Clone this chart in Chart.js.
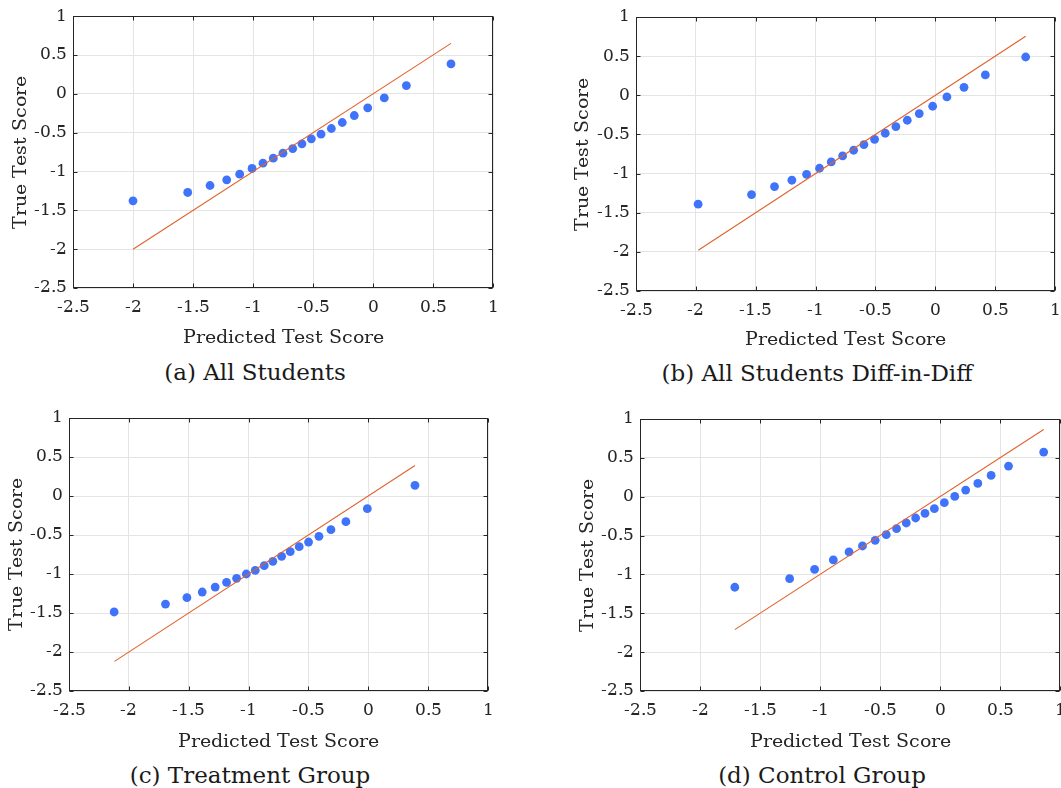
<!DOCTYPE html>
<html lang="en">
<head>
<meta charset="utf-8" />
<title>Predicted vs true test score</title>
<script src="https://cdn.jsdelivr.net/npm/chart.js@4.4.1/dist/chart.umd.min.js"></script>
<style>
  @font-face { font-family: "PaperSerif"; src: local("DejaVu Serif"), local("DejaVuSerif"); }
  html, body { margin: 0; padding: 0; background: #fff; overflow: hidden; }
  body { width: 1061px; height: 788px; position: relative; font-family: "DejaVu Serif", serif; }
  canvas { position: absolute; }
  .cap { position: absolute; font-family: "DejaVu Serif", serif; font-size: 23px; color: #1a1a1a;
         white-space: nowrap; transform: translateX(-50%); line-height: 1; }
  .warm { position: absolute; left: -999px; top: 0; font-family: "PaperSerif"; font-size: 17px; }
</style>
</head>
<body>
<span class="warm">-2.5 Predicted True Test Score</span>
<canvas id="chartA" width="520" height="355" style="left:0px;top:0px"></canvas>
<canvas id="chartB" width="540" height="355" style="left:540px;top:0px"></canvas>
<canvas id="chartC" width="520" height="355" style="left:0px;top:400px"></canvas>
<canvas id="chartD" width="540" height="355" style="left:540px;top:400px"></canvas>

<div class="cap" style="left:255px;top:361px">(a) All Students</div>
<div class="cap" style="left:817px;top:362px">(b) All Students Diff-in-Diff</div>
<div class="cap" style="left:250px;top:764px">(c) Treatment Group</div>
<div class="cap" style="left:822px;top:764px">(d) Control Group</div>

<script>
// axis ticks shared by all panels
var tickValues = [-2.5, -2, -1.5, -1, -0.5, 0, 0.5, 1];
var xTitle = "Predicted Test Score";
var yTitle = "True Test Score";

// (a) All Students
var predA = [-2.00, -1.544, -1.358, -1.219, -1.111, -1.008, -0.917, -0.831, -0.750, -0.669,
             -0.592, -0.514, -0.433, -0.347, -0.256, -0.156, -0.044, 0.094, 0.278, 0.650];
var trueA = [-1.378, -1.270, -1.180, -1.107, -1.034, -0.961, -0.893, -0.828, -0.764, -0.704,
             -0.644, -0.579, -0.519, -0.446, -0.369, -0.279, -0.180, -0.052, 0.107, 0.386];
var lineA = [-2.00, 0.65];

// (b) All Students Diff-in-Diff
var predB = [-1.981, -1.535, -1.343, -1.198, -1.075, -0.967, -0.869, -0.774, -0.682, -0.596,
             -0.507, -0.418, -0.329, -0.234, -0.134, -0.022, 0.097, 0.240, 0.418, 0.755];
var trueB = [-1.391, -1.268, -1.166, -1.085, -1.009, -0.932, -0.851, -0.774, -0.702, -0.630,
             -0.562, -0.485, -0.400, -0.319, -0.234, -0.140, -0.021, 0.102, 0.260, 0.489];
var lineB = [-1.98, 0.755];

// (c) Treatment Group
var predC = [-2.123, -1.694, -1.515, -1.387, -1.279, -1.184, -1.100, -1.019, -0.944, -0.869,
             -0.797, -0.724, -0.652, -0.577, -0.499, -0.412, -0.312, -0.187, -0.008, 0.390];
var trueC = [-1.487, -1.385, -1.303, -1.231, -1.167, -1.107, -1.056, -1.000, -0.953, -0.893,
             -0.838, -0.774, -0.714, -0.650, -0.590, -0.517, -0.432, -0.329, -0.162, 0.137];
var lineC = [-2.12, 0.39];

// (d) Control Group
var predD = [-1.710, -1.253, -1.045, -0.889, -0.758, -0.646, -0.540, -0.448, -0.362, -0.281,
             -0.203, -0.125, -0.047, 0.036, 0.123, 0.214, 0.315, 0.426, 0.571, 0.864];
var trueD = [-1.165, -1.054, -0.934, -0.814, -0.711, -0.634, -0.561, -0.488, -0.411, -0.338,
             -0.274, -0.214, -0.154, -0.077, 0.004, 0.086, 0.171, 0.274, 0.394, 0.574];
var lineD = [-1.71, 0.864];

var axisColor = "#262626";
var gridColor = "#e4e4e4";
var fontFamily = "PaperSerif, 'DejaVu Serif', serif";

// box round the plot plus short inward ticks on all four sides
var boxTicks = {
    id: "boxTicks",
    afterDraw: function(chart) {
        var ctx = chart.ctx;
        var a = chart.chartArea;
        var l = Math.round(a.left) + 0.5, r = Math.round(a.right) - 0.5;
        var t = Math.round(a.top) + 0.5, b = Math.round(a.bottom) - 0.5;
        ctx.save();
        ctx.strokeStyle = axisColor;
        ctx.lineWidth = 1;
        ctx.strokeRect(l, t, r - l, b - t);
        ctx.beginPath();
        chart.scales.x.ticks.forEach(function(tk) {
            var px = Math.round(chart.scales.x.getPixelForValue(tk.value)) + 0.5;
            ctx.moveTo(px, b); ctx.lineTo(px, b - 4);
            ctx.moveTo(px, t); ctx.lineTo(px, t + 4);
        });
        chart.scales.y.ticks.forEach(function(tk) {
            var py = Math.round(chart.scales.y.getPixelForValue(tk.value)) + 0.5;
            ctx.moveTo(l, py); ctx.lineTo(l + 4, py);
            ctx.moveTo(r, py); ctx.lineTo(r - 4, py);
        });
        ctx.stroke();
        ctx.restore();
    }
};

function makePanel(id, pred, truth, ends, box) {
    var points = pred.map(function(v, i) { return {x: v, y: truth[i]}; });
    var refLine = ends.map(function(v) { return {x: v, y: v}; });
    return new Chart(document.getElementById(id), {
        type: "scatter",
        data: {
            datasets: [
                {
                    type: "line",
                    data: refLine,
                    borderColor: "#e2612b",
                    borderWidth: 1.1,
                    pointRadius: 0,
                    fill: false,
                    order: 0
                },
                {
                    data: points,
                    backgroundColor: "#3f73fa",
                    borderWidth: 0,
                    pointRadius: 4.4,
                    order: 1
                }
            ]
        },
        options: {
            responsive: false,
            animation: false,
            layout: { padding: { top: box.top, right: box.right, left: 0, bottom: 0 } },
            plugins: { legend: { display: false }, tooltip: { enabled: false } },
            scales: {
                x: {
                    type: "linear",
                    min: -2.5, max: 1,
                    afterBuildTicks: function(s) { s.ticks = tickValues.map(function(v) { return {value: v}; }); },
                    afterFit: function(s) { s.height = box.xh; },
                    grid: { color: gridColor, drawTicks: false },
                    border: { display: false },
                    ticks: { color: axisColor, padding: 9, font: { family: fontFamily, size: 17 },
                             callback: function(v) { return String(v); } },
                    title: { display: true, text: xTitle, color: axisColor,
                             font: { family: fontFamily, size: 19 }, padding: { top: 0, bottom: box.xt } }
                },
                y: {
                    type: "linear",
                    min: -2.5, max: 1,
                    afterBuildTicks: function(s) { s.ticks = tickValues.map(function(v) { return {value: v}; }); },
                    afterFit: function(s) { s.width = box.yw; },
                    grid: { color: gridColor, drawTicks: false },
                    border: { display: false },
                    ticks: { color: axisColor, padding: 6, font: { family: fontFamily, size: 17 },
                             callback: function(v) { return String(v); } },
                    title: { display: true, text: yTitle, color: axisColor,
                             font: { family: fontFamily, size: 19 }, padding: { top: box.yt, bottom: 0 } }
                }
            }
        },
        plugins: [boxTicks]
    });
}

var charts = [];
function drawAll() {
    if (charts.length) {
        charts.forEach(function(c) { c.update("none"); });
        return;
    }
    charts.push(makePanel("chartA", predA, trueA, lineA, { top: 16, right: 27, xh: 67, yw: 73, xt: 5.6, yt: 9.6 }));
    charts.push(makePanel("chartB", predB, trueB, lineB, { top: 17, right: 25, xh: 64, yw: 96, xt: 4, yt: 31.6 }));
    charts.push(makePanel("chartC", predC, trueC, lineC, { top: 18, right: 32, xh: 64, yw: 69, xt: 2, yt: 5.6 }));
    charts.push(makePanel("chartD", predD, trueD, lineD, { top: 19, right: 20, xh: 64, yw: 100, xt: 2, yt: 36.6 }));
}

// wait for the serif face, then redraw once more after load in case it came late
Promise.all([
    document.fonts.load("17px PaperSerif"),
    document.fonts.load("19px PaperSerif")
]).then(drawAll, drawAll);
window.addEventListener("load", function() { setTimeout(drawAll, 50); });
</script>
</body>
</html>
